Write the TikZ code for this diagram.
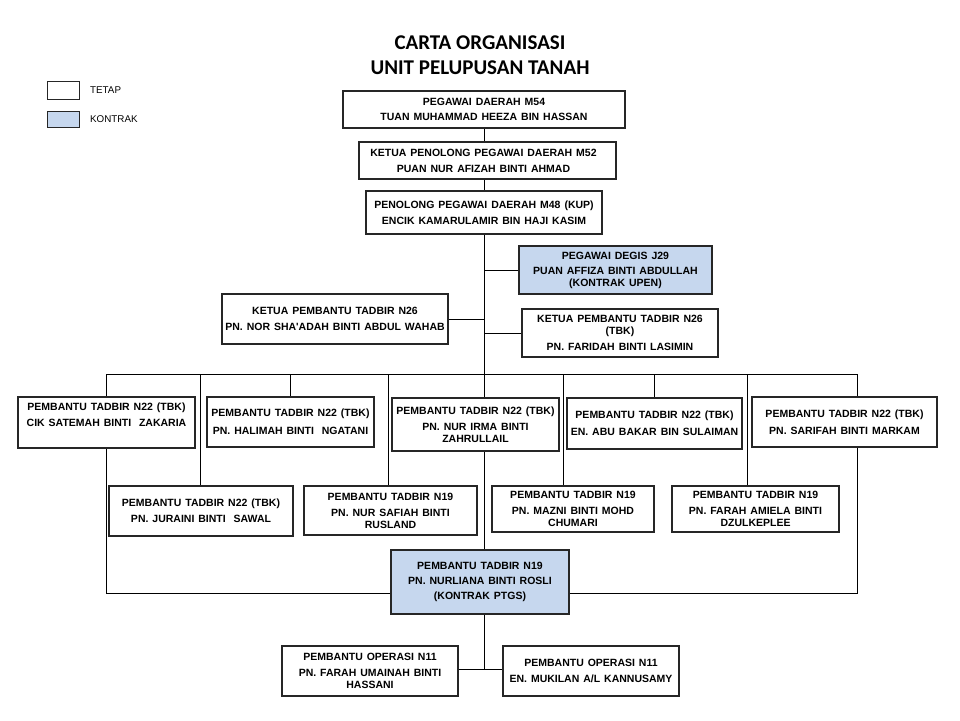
\documentclass[tikz,border=0pt]{standalone}
\usepackage{fontspec}
\setmainfont{Liberation Sans}
\newfontfamily\titlefont{Carlito}
\newfontfamily\boxfont[WordSpace=1.35]{Liberation Sans}
\usetikzlibrary{shadows,backgrounds}
\definecolor{kontrak}{HTML}{C6D7EE}
\tikzset{
  box/.style={draw=black!85, line width=1.1pt, fill=white, inner sep=0pt, align=center,
    font=\boxfont\fontsize{10.5}{12}\selectfont\bfseries,
    drop shadow={shadow xshift=1.2pt, shadow yshift=-1.2pt, fill=black!60, opacity=0.7}},
  blue/.style={fill=kontrak},
  link/.style={draw=black, line width=0.8pt},
  legbox/.style={draw=black!85, line width=0.8pt, inner sep=0pt, minimum width=32pt, minimum height=18pt},
  legtext/.style={anchor=west, font=\fontsize{9.8}{12}\selectfont, inner sep=0pt},
  ttl/.style={font=\titlefont\fontsize{21}{24}\selectfont\bfseries, inner sep=0pt}
}
\begin{document}
\begin{tikzpicture}[x=1pt,y=-1pt]
\useasboundingbox (0,0) rectangle (960,720);
% title
\node[ttl] (t1) at (480,43) {CARTA ORGANISASI};
\node[ttl] (t2) at (480,68) {UNIT PELUPUSAN TANAH};
% legend
\node[legbox, fill=white] (lg1) at (63,90) {};
\node[legtext] (lt1) at (90,90) {TETAP};
\node[legbox, fill=kontrak, minimum height=16pt] (lg2) at (63,119) {};
\node[legtext] (lt2) at (90,119) {KONTRAK};
% boxes
\node[box, minimum width=282pt, minimum height=37pt] (b1) at (484,109.5) {PEGAWAI DAERAH M54\\[3pt]TUAN MUHAMMAD HEEZA BIN HASSAN};
\node[box, minimum width=257pt, minimum height=37pt] (b2) at (487.5,160.5) {\hspace*{-8pt}KETUA PENOLONG PEGAWAI DAERAH M52\\[4pt]\hspace*{-8pt}PUAN NUR AFIZAH BINTI AHMAD};
\node[box, minimum width=236pt, minimum height=43pt] (b3) at (484,212.5) {PENOLONG PEGAWAI DAERAH M48 (KUP)\\[4pt]ENCIK KAMARULAMIR BIN HAJI KASIM};
\node[box, blue, minimum width=193pt, minimum height=48pt] (degis) at (615.5,270) {PEGAWAI DEGIS J29\\[3pt]PUAN AFFIZA BINTI ABDULLAH\\(KONTRAK UPEN)};
\node[box, minimum width=196pt, minimum height=48pt] (ketuaR) at (620,333) {KETUA PEMBANTU TADBIR N26\\(TBK)\\[4pt]PN. FARIDAH BINTI LASIMIN};
\node[box, minimum width=226pt, minimum height=50pt] (ketuaL) at (335,319) {KETUA PEMBANTU TADBIR N26\\[4pt]PN. NOR SHA'ADAH BINTI ABDUL WAHAB};
% row 1
\node[box, minimum width=177pt, minimum height=51pt] (satemah) at (106.5,422.5) {PEMBANTU TADBIR N22 (TBK)\\[4pt]CIK SATEMAH BINTI\ \ ZAKARIA\\ \strut};
\node[box, minimum width=167pt, minimum height=50pt] (halimah) at (290.5,422) {PEMBANTU TADBIR N22 (TBK)\\[6pt]PN. HALIMAH BINTI\ \ NGATANI};
\node[box, minimum width=167pt, minimum height=53pt] (nurirma) at (475.5,424.5) {PEMBANTU TADBIR N22 (TBK)\\[4pt]PN. NUR IRMA BINTI\\ZAHRULLAIL};
\node[box, minimum width=175pt, minimum height=51pt] (abubakar) at (654.5,423.5) {PEMBANTU TADBIR N22 (TBK)\\[5pt]EN. ABU BAKAR BIN SULAIMAN};
\node[box, minimum width=185pt, minimum height=50pt] (sarifah) at (844.5,422) {PEMBANTU TADBIR N22 (TBK)\\[5pt]PN. SARIFAH BINTI MARKAM};
% row 2
\node[box, minimum width=184pt, minimum height=50pt] (juraini) at (201,511) {PEMBANTU TADBIR N22 (TBK)\\[4pt]PN. JURAINI BINTI\ \ SAWAL};
\node[box, minimum width=173pt, minimum height=49pt] (nursafiah) at (390.5,510.5) {PEMBANTU TADBIR N19\\[4pt]PN. NUR SAFIAH BINTI\\RUSLAND};
\node[box, minimum width=162pt, minimum height=46pt] (mazni) at (573,509) {PEMBANTU TADBIR N19\\[4pt]PN. MAZNI BINTI MOHD\\CHUMARI};
\node[box, minimum width=167pt, minimum height=46pt] (farahA) at (755.5,509) {PEMBANTU TADBIR N19\\[4pt]PN. FARAH AMIELA BINTI\\DZULKEPLEE};
% nurliana
\node[box, blue, minimum width=178pt, minimum height=64pt] (nurliana) at (480,582) {PEMBANTU TADBIR N19\\[3pt]PN. NURLIANA BINTI ROSLI\\[3pt](KONTRAK PTGS)};
% ops
\node[box, minimum width=176pt, minimum height=50pt] (farahU) at (370,671) {PEMBANTU OPERASI N11\\[4pt]PN. FARAH UMAINAH BINTI\\HASSANI};
\node[box, minimum width=176pt, minimum height=50pt] (mukilan) at (591,671) {PEMBANTU OPERASI N11\\[4pt]EN. MUKILAN A/L KANNUSAMY};
% coordinates
\coordinate (bus) at (484,374);
\coordinate (dJ) at (200,374);
\coordinate (dS) at (388,374);
\coordinate (dM) at (563,374);
\coordinate (dF) at (747,374);
\coordinate (dR) at (857,374);
\coordinate (bot) at (484,593);
\coordinate (ops) at (484,669);
\begin{scope}[on background layer]
\draw[link] (b1.south) -- (ops);
\draw[link] (degis.west) -- (degis.west -| bus);
\draw[link] (ketuaR.west) -- (ketuaR.west -| bus);
\draw[link] (ketuaL.east) -- (ketuaL.east -| bus);
\draw[link] (satemah.north) -- (satemah.north |- bus) -- (dR) -- (dR |- sarifah.north);
\draw[link] (halimah.north) -- (halimah.north |- bus);
\draw[link] (abubakar.north) -- (abubakar.north |- bus);
\draw[link] (dJ) -- (dJ |- juraini.north);
\draw[link] (dS) -- (dS |- nursafiah.north);
\draw[link] (dM) -- (dM |- mazni.north);
\draw[link] (dF) -- (dF |- farahA.north);
\draw[link] (satemah.south) -- (satemah.south |- bot) -- (bot -| nurliana.west);
\draw[link] (dR |- sarifah.south) -- (dR |- bot) -- (bot -| nurliana.east);
\draw[link] (ops -| farahU.east) -- (ops -| mukilan.west);
\end{scope}
\end{tikzpicture}
\end{document}
